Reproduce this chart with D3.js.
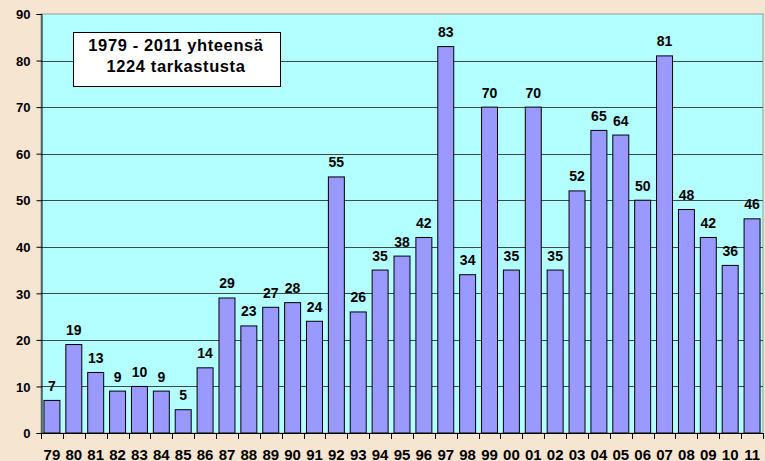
<!DOCTYPE html>
<meta charset="utf-8">
<title>Tarkastukset 1979-2011</title>
<style>
html, body { margin: 0; padding: 0; background: #F6E5D1; }
svg { display: block; }
text { font-family: Arial, "Liberation Sans", sans-serif; font-weight: bold; fill: #000; }
</style>
<body>
<svg width="765" height="461"></svg>
<script src="https://d3js.org/d3.v7.min.js"></script>
<script>

var years = ["79","80","81","82","83","84","85","86","87","88","89","90","91","92","93","94","95","96","97","98","99","00","01","02","03","04","05","06","07","08","09","10","11"];
var counts = [7,19,13,9,10,9,5,14,29,23,27,28,24,55,26,35,38,42,83,34,70,35,70,35,52,65,64,50,81,48,42,36,46];
var yTicks = [0,10,20,30,40,50,60,70,80,90];
var boxLines = ["1979 - 2011 yhteensä", "1224 tarkastusta"];

var svg = d3.select("svg");
var plotL = 41, plotR = 763, plotT = 14, plotB = 433;

var x = d3.scaleBand().domain(years).range([plotL, plotR]).paddingInner(0.27).paddingOuter(0.135);
var y = d3.scaleLinear().domain([0, 90]).range([plotB, plotT]);

// plot area
svg.append("rect")
    .attr("x", plotL).attr("y", plotT)
    .attr("width", plotR - plotL).attr("height", plotB - plotT)
    .attr("fill", "#B3FFFF")
    .attr("stroke", "#999").attr("stroke-width", 1);

// gridlines
svg.append("g")
  .selectAll("line")
  .data(yTicks.slice(1, -1))
  .enter().append("line")
    .attr("x1", plotL).attr("x2", plotR)
    .attr("y1", function(d) { return Math.round(y(d)) + 0.5; })
    .attr("y2", function(d) { return Math.round(y(d)) + 0.5; })
    .attr("stroke", "#3a4a4a").attr("stroke-width", 1);

// y axis
var yAxis = svg.append("g")
    .attr("transform", "translate(" + (plotL + 0.5) + ",0)")
    .call(d3.axisLeft(y).tickValues(yTicks).tickSize(5).tickPadding(6));
yAxis.select(".domain").attr("stroke", "#000");
yAxis.selectAll(".tick line").attr("stroke", "#000");
yAxis.selectAll("text").attr("font-size", 13).attr("font-family", null).attr("dy", "0.36em");

// x axis baseline + ticks between categories
svg.append("line")
    .attr("x1", plotL).attr("x2", plotR)
    .attr("y1", plotB + 0.5).attr("y2", plotB + 0.5)
    .attr("stroke", "#000");

var step = x.step();
svg.append("g")
  .selectAll("line")
  .data(d3.range(years.length + 1))
  .enter().append("line")
    .attr("x1", function(i) { return Math.round(plotL + i * step) + 0.5; })
    .attr("x2", function(i) { return Math.round(plotL + i * step) + 0.5; })
    .attr("y1", plotB).attr("y2", plotB + 6)
    .attr("stroke", "#000");

svg.append("g")
  .selectAll("text")
  .data(years)
  .enter().append("text")
    .attr("x", function(d) { return x(d) + x.bandwidth() / 2; })
    .attr("y", 459.5)
    .attr("text-anchor", "middle")
    .attr("font-size", 15)
    .text(function(d) { return d; });

// bars
svg.append("g")
  .selectAll("rect")
  .data(counts)
  .enter().append("rect")
    .attr("x", function(d, i) { return x(years[i]); })
    .attr("y", function(d) { return y(d); })
    .attr("width", x.bandwidth())
    .attr("height", function(d) { return plotB - y(d); })
    .attr("fill", "#9999FF")
    .attr("stroke", "#000").attr("stroke-width", 1);

// value labels
svg.append("g")
  .selectAll("text")
  .data(counts)
  .enter().append("text")
    .attr("x", function(d, i) { return x(years[i]) + x.bandwidth() / 2; })
    .attr("y", function(d) { return y(d) - 9.5; })
    .attr("text-anchor", "middle")
    .attr("font-size", 14)
    .text(function(d) { return d; });

// info box
svg.append("rect")
    .attr("x", 73.5).attr("y", 32.5)
    .attr("width", 207).attr("height", 54)
    .attr("fill", "#fff").attr("stroke", "#000");

svg.append("g")
  .selectAll("text")
  .data(boxLines)
  .enter().append("text")
    .attr("x", 176)
    .attr("y", function(d, i) { return 50.5 + i * 21.5; })
    .attr("text-anchor", "middle")
    .attr("font-size", 16.5)
    .attr("letter-spacing", 0.6)
    .text(function(d) { return d; });

</script>
</body>
